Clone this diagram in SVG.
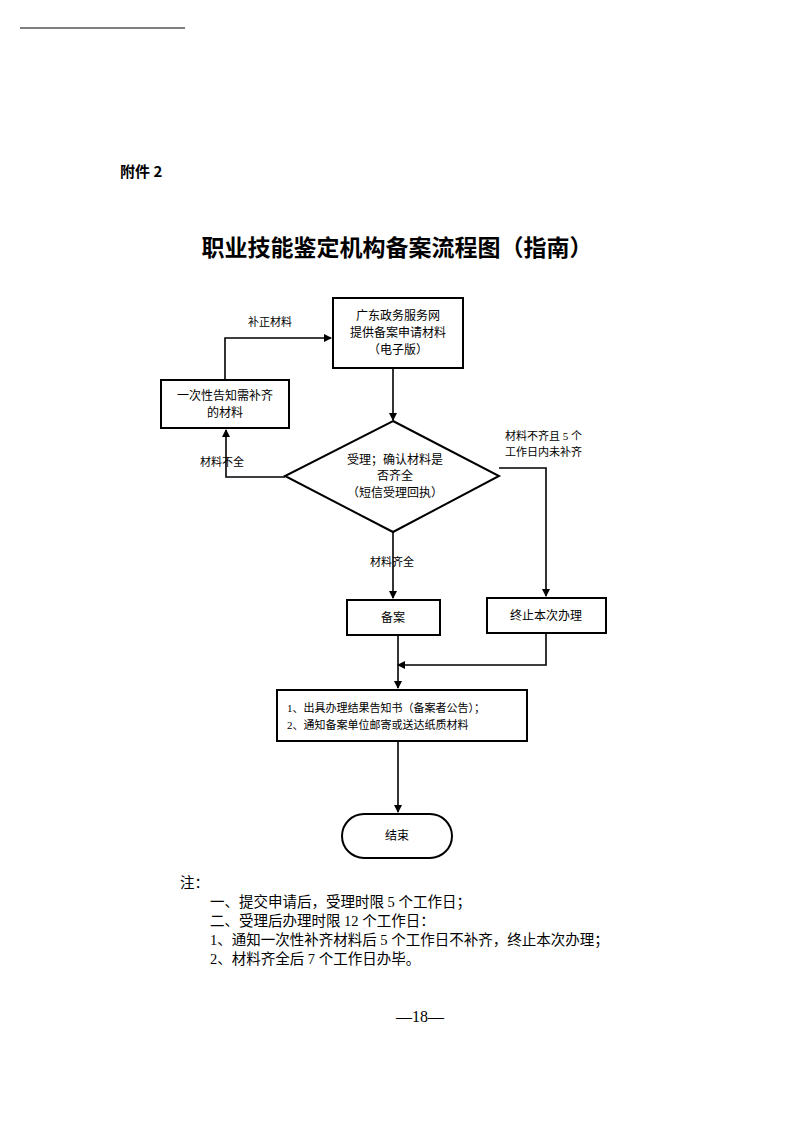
<svg xmlns="http://www.w3.org/2000/svg" width="794" height="1122" viewBox="0 0 794 1122">
<style>
text{font-family:"Liberation Serif","Noto Sans CJK SC",serif;fill:#000}
.n{fill:#fff;stroke:#000;stroke-width:2}
.c{fill:none;stroke:#000;stroke-width:1.6;marker-end:url(#a)}
.t{font-size:12px;text-anchor:middle}
.l{font-size:11px}
.note{font-size:14.5px}
</style>
<defs><marker id="a" markerWidth="8" markerHeight="8" refX="7" refY="4" orient="auto" markerUnits="userSpaceOnUse"><path d="M0,0L8,4L0,8z" fill="#000"/></marker></defs>
<rect width="794" height="1122" fill="#fff"/>
<line x1="20" y1="28" x2="185" y2="28" stroke="#000" stroke-width="1"/>
<text x="120" y="177" style="font-size:15px;font-weight:bold;font-family:'Noto Sans CJK SC',sans-serif">附件 2</text>
<text x="397" y="256" text-anchor="middle" style="font-size:23px;font-weight:bold;font-family:'Noto Sans CJK SC',sans-serif">职业技能鉴定机构备案流程图（指南）</text>
<g id="connectors">
<path class="c" d="M393,368V420"/>
<path class="c" d="M285,477H226V430"/>
<path class="c" d="M225,380V338H331"/>
<path class="c" d="M499,468H546V596"/>
<path class="c" d="M393,532V598"/>
<path class="c" d="M398,635V688"/>
<path class="c" d="M546,633V665H398"/>
<path class="c" d="M398,741V812"/>
<text class="l" x="248" y="326">补正材料</text>
<text class="l" x="200" y="466">材料不全</text>
<text class="l" x="505" y="440">材料不齐且 5 个</text>
<text class="l" x="505" y="456">工作日内未补齐</text>
<text class="l" x="370" y="566">材料齐全</text>
</g>
<g id="n1"><rect class="n" x="333" y="298" width="130" height="70"/>
<text class="t" x="398" y="320">广东政务服务网</text><text class="t" x="398" y="337">提供备案申请材料</text><text class="t" x="398" y="354">（电子版）</text></g>
<g id="n2"><rect class="n" x="161" y="380" width="128" height="48"/>
<text class="t" x="225" y="400">一次性告知需补齐</text><text class="t" x="225" y="417">的材料</text></g>
<g id="n3"><path class="n" d="M393,421L499,476L393,532L285,476z"/>
<text class="t" x="395" y="464">受理；确认材料是</text><text class="t" x="395" y="480">否齐全</text><text class="t" x="395" y="497">（短信受理回执）</text></g>
<g id="n4"><rect class="n" x="347" y="600" width="93" height="35"/><text class="t" x="393" y="622">备案</text></g>
<g id="n5"><rect class="n" x="487" y="598" width="119" height="35"/><text class="t" x="546" y="620">终止本次办理</text></g>
<g id="n6"><rect class="n" x="277" y="690" width="250" height="51"/>
<text class="l" x="287" y="712">1、出具办理结果告知书（备案者公告）；</text><text class="l" x="287" y="729">2、通知备案单位邮寄或送达纸质材料</text></g>
<g id="n7"><rect class="n" x="342" y="814" width="110" height="44" rx="22"/><text class="t" x="397" y="840">结束</text></g>
<text class="note" x="180" y="888">注：</text>
<text class="note" x="210" y="907">一、提交申请后，受理时限 5 个工作日；</text>
<text class="note" x="210" y="926">二、受理后办理时限 12 个工作日：</text>
<text class="note" x="210" y="945">1、通知一次性补齐材料后 5 个工作日不补齐，终止本次办理；</text>
<text class="note" x="210" y="964">2、材料齐全后 7 个工作日办毕。</text>
<text x="420" y="1022" text-anchor="middle" style="font-size:16px">—18—</text>
</svg>
